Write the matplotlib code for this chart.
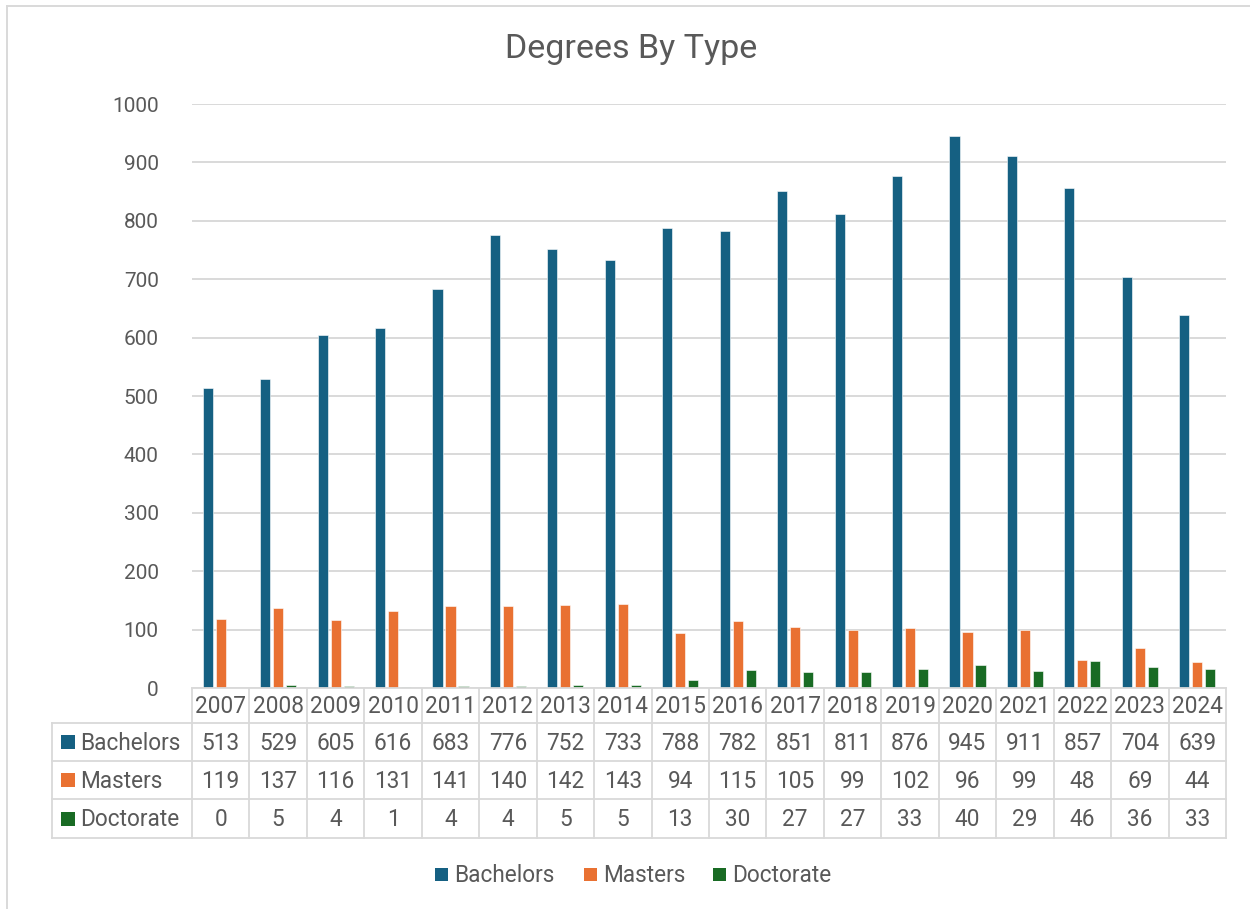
import matplotlib
matplotlib.use("Agg")
import matplotlib.pyplot as plt
from matplotlib.transforms import blended_transform_factory
from matplotlib.lines import Line2D
from matplotlib.patches import Rectangle

years = ["2007", "2008", "2009", "2010", "2011", "2012", "2013", "2014", "2015",
         "2016", "2017", "2018", "2019", "2020", "2021", "2022", "2023", "2024"]
bachelors = [513, 529, 605, 616, 683, 776, 752, 733, 788, 782, 851, 811, 876, 945, 911, 857, 704, 639]
masters = [119, 137, 116, 131, 141, 140, 142, 143, 94, 115, 105, 99, 102, 96, 99, 48, 69, 44]
doctorate = [0, 5, 4, 1, 4, 4, 5, 5, 13, 30, 27, 27, 33, 40, 29, 46, 36, 33]
series_names = ["Bachelors", "Masters", "Doctorate"]
colors = ["#156082", "#E97132", "#196B24"]
yticks = [0, 100, 200, 300, 400, 500, 600, 700, 800, 900, 1000]

plt.rcParams['font.family'] = ['Roboto', 'DejaVu Sans']
TXT = "#595959"
GRID = "#D9D9D9"

W, H = 1250, 909
fig = plt.figure(figsize=(W / 100, H / 100), dpi=100)

def fx(px):
    return px / W

def fy(py):
    return 1 - py / H

ax_l, ax_r, ax_t, ax_b = 192, 1226, 104, 688
ax = fig.add_axes([fx(ax_l), fy(ax_b), fx(ax_r - ax_l), (ax_b - ax_t) / H])

n = len(years)
x = list(range(n))
bw = 0.175
offs = [-0.226, 0.0, 0.226]
data = [bachelors, masters, doctorate]
for s in range(3):
    ax.bar([xi + offs[s] for xi in x], data[s], width=bw, color=colors[s],
           edgecolor="white", linewidth=0.4, zorder=3)

ax.set_xlim(-0.5, n - 0.5)
ax.set_ylim(0, 1000)
ax.set_yticks(yticks)
ax.set_yticklabels([str(v) for v in yticks], fontsize=15, color=TXT)
ax.tick_params(axis='y', length=0, pad=24)
ax.set_xticks([])
ax.grid(axis='y', color=GRID, linewidth=1.4, zorder=0)
for sp in ax.spines.values():
    sp.set_visible(False)

# Title
fig.text(fx(631), fy(49), "Degrees By Type", ha='center', va='center',
         fontsize=24.5, color=TXT)

FS = 16.3
# Data table
tr = blended_transform_factory(ax.transData, fig.transFigure)
row_lines = [688, 723, 761, 799, 838]
lw = 1.3
fig.add_artist(Line2D([fx(ax_l), fx(ax_r)], [fy(688)] * 2, color=GRID, lw=lw))
for py in row_lines[1:]:
    fig.add_artist(Line2D([fx(52), fx(ax_r)], [fy(py)] * 2, color=GRID, lw=lw))
for i in range(n + 1):
    xp = ax_l + (ax_r - ax_l) * i / n
    fig.add_artist(Line2D([fx(xp)] * 2, [fy(688), fy(838)], color=GRID, lw=lw))
fig.add_artist(Line2D([fx(52)] * 2, [fy(723), fy(838)], color=GRID, lw=lw))

for i, yl in enumerate(years):
    ax.text(i, fy(706.5), yl, transform=tr, ha='center', va='center',
            fontsize=FS, color=TXT)
row_centers = [743, 781, 820]
for s in range(3):
    yc = row_centers[s]
    fig.add_artist(Rectangle((fx(61), fy(yc + 6)), fx(14), 14 / H,
                             facecolor=colors[s], edgecolor='none'))
    fig.text(fx(80), fy(yc), series_names[s], ha='left', va='center',
             fontsize=FS, color=TXT)
    for i in range(n):
        ax.text(i, fy(yc), str(data[s][i]), transform=tr, ha='center',
                va='center', fontsize=FS, color=TXT)

# Legend
leg_items = [(435, "Bachelors"), (584, "Masters"), (713, "Doctorate")]
for s, (lx, name) in enumerate(leg_items):
    fig.add_artist(Rectangle((fx(lx), fy(881)), fx(13), 13 / H,
                             facecolor=colors[s], edgecolor='none'))
    fig.text(fx(lx + 19), fy(875.5), name, ha='left', va='center',
             fontsize=FS, color=TXT)

# Chart border (left and top visible)
fig.add_artist(Line2D([fx(7), fx(W)], [fy(6)] * 2, color=GRID, lw=1.4))
fig.add_artist(Line2D([fx(7)] * 2, [fy(6), 0], color=GRID, lw=1.4))

fig.savefig("out.png", dpi=100)
